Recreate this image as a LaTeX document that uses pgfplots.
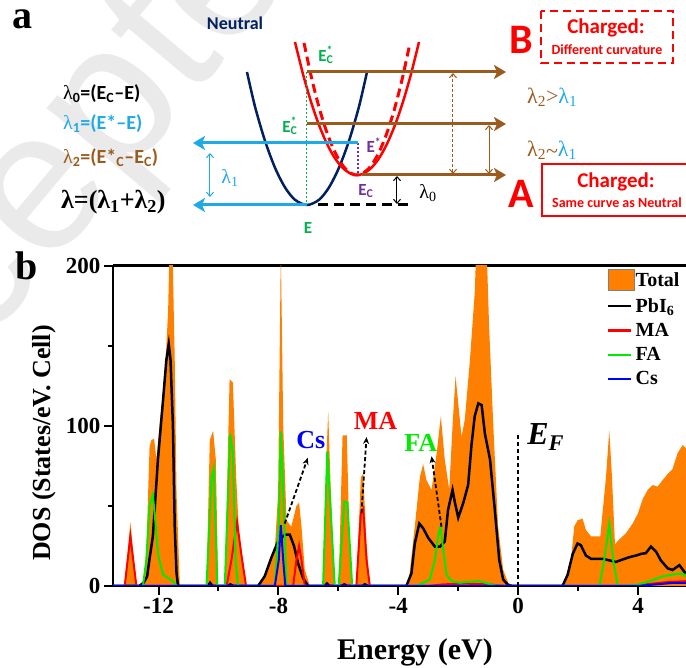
\documentclass[border=0pt]{standalone}
\usepackage{fontspec}
\setmainfont{Liberation Serif}
\newfontfamily\calibri{Carlito}
\newfontfamily\ser{Liberation Serif}
\newfontfamily\wm{Liberation Sans}
\usepackage{pgfplots}
\pgfplotsset{compat=1.18}
\usetikzlibrary{arrows.meta}
\newcommand\fs[1]{\fontsize{#1}{#1}\selectfont}
\definecolor{dosorange}{RGB}{255,128,0}
\definecolor{fagreen}{RGB}{0,235,0}
\definecolor{navy}{RGB}{0,32,96}
\definecolor{lblue}{RGB}{30,170,230}
\definecolor{brownc}{RGB}{155,90,30}
\definecolor{egreen}{RGB}{0,176,80}
\definecolor{purp}{RGB}{112,48,160}
\definecolor{wmgray}{RGB}{234,234,234}
\begin{document}
\begin{tikzpicture}[x=1pt,y=1pt]
\path[use as bounding box] (0pt,0pt) rectangle (686pt,668pt);
\clip (0pt,0pt) rectangle (686pt,668pt);
% ---------- pixel-coordinate axis: panel a and labels ----------
\begin{axis}[at={(0pt,0pt)}, anchor=south west, scale only axis, width=686pt, height=668pt,
  xmin=0, xmax=686, ymin=0, ymax=668, y dir=reverse, axis lines=none, clip=false]
% watermark
\node[rotate=50, text=wmgray, font=\wm\fs{200}] at (62,174) {Accepted};
% panel label a
\node[font=\ser\bfseries\fs{40}] at (23,19) {a};
\node[font=\calibri\bfseries\fs{18}, text=navy] at (235,23) {Neutral};
% formulas
\node[anchor=west, font=\calibri\bfseries\fs{20}, text=black, inner sep=0] at (63,94) {{\ser\mdseries λ}\textsubscript{0}=(E\textsubscript{C}–E)};
\node[anchor=west, font=\calibri\bfseries\fs{20}, text=lblue, inner sep=0] at (63,124) {{\ser\mdseries λ}\textsubscript{1}=(E*–E)};
\node[anchor=west, font=\calibri\bfseries\fs{20}, text=brownc, inner sep=0] at (63,158) {{\ser\mdseries λ}\textsubscript{2}=(E*\textsubscript{C}–E\textsubscript{C})};
\node[anchor=west, font=\ser\bfseries\fs{26}, text=black, inner sep=0] at (61,202) {λ=(λ\textsubscript{1}+λ\textsubscript{2})};
% neutral parabola
\addplot[navy, line width=2.5pt, smooth] coordinates {(247,72) (255,106.6) (265,140.8) (275,167.7) (285,187.4) (295,199.8) (307,205) (319,199.8) (329,187.4) (339,167.7) (349,140.8) (359,106.6) (367,72)};
% charged solid parabola
\addplot[red, line width=2.5pt, smooth] coordinates {(295,42) (303,74.1) (311,101.8) (319,125) (327,143.9) (335,158.3) (343,168.2) (351,173.8) (357,175) (363,173.8) (371,168.2) (379,158.3) (387,143.9) (395,125) (403,101.8) (411,74.1) (419,42)};
% charged dashed parabola
\addplot[red, line width=3pt, dash pattern=on 9pt off 5pt, smooth] coordinates {(304,43) (312,79.8) (320,110.7) (328,135.5) (336,154.3) (344,167.1) (352,173.8) (357,175) (362,173.8) (370,167.1) (378,154.3) (386,135.5) (394,110.7) (402,79.8) (410,43)};
% guide lines
\draw[egreen, line width=1pt, dash pattern=on 2pt off 2pt] (307,72) -- (307,205);
\draw[purp, line width=1.2pt, dash pattern=on 2pt off 2pt] (358,143) -- (358,175);
\draw[black, line width=3pt, dash pattern=on 10pt off 6pt] (318,205) -- (412,205);
% brown arrows
\draw[brownc, line width=3pt, -{Stealth[length=12pt,width=14pt,inset=3pt]}] (307,72) -- (506,72);
\draw[brownc, line width=3pt, -{Stealth[length=12pt,width=14pt,inset=3pt]}] (307,124) -- (506,124);
\draw[brownc, line width=3pt, -{Stealth[length=12pt,width=14pt,inset=3pt]}] (362,175) -- (506,175);
% blue arrows
\draw[lblue, line width=3pt, -{Stealth[length=12pt,width=14pt,inset=3pt]}] (358,143) -- (193,143);
\draw[lblue, line width=3pt, -{Stealth[length=12pt,width=14pt,inset=3pt]}] (307,205) -- (193,205);
% thin double arrows
\draw[lblue, line width=1pt, {Straight Barb[length=4pt,width=7pt]}-{Straight Barb[length=4pt,width=7pt]}] (210,153) -- (210,197);
\draw[black, line width=1pt, {Straight Barb[length=4pt,width=7pt]}-{Straight Barb[length=4pt,width=7pt]}] (397,176) -- (397,204);
\draw[brownc, line width=1pt, dash pattern=on 3pt off 2pt, {Straight Barb[length=4pt,width=7pt]}-{Straight Barb[length=4pt,width=7pt]}] (453,73) -- (453,174);
\draw[brownc, line width=1pt, {Straight Barb[length=4pt,width=7pt]}-{Straight Barb[length=4pt,width=7pt]}] (489,125) -- (489,174);
% labels in diagram
\node[font=\ser\fs{20}, text=lblue] at (230,178) {λ\textsubscript{1}};
\node[font=\calibri\bfseries\fs{17}, text=egreen] at (308,228) {E};
\node[font=\calibri\bfseries\fs{17}, text=egreen] at (326,55) {E\rlap{\textsuperscript{*}}\textsubscript{C}};
\node[font=\calibri\bfseries\fs{17}, text=egreen] at (290,126) {E\rlap{\textsuperscript{*}}\textsubscript{C}};
\node[font=\calibri\bfseries\fs{17}, text=purp] at (374,145) {E\textsuperscript{*}};
\node[font=\calibri\bfseries\fs{17}, text=purp] at (366,191) {E\textsubscript{C}};
\node[font=\ser\fs{20}, text=black] at (428,193) {λ\textsubscript{0}};
\node[anchor=west, font=\ser\fs{22}, inner sep=0] at (527,97) {\textcolor{brownc}{λ\textsubscript{2}>}\textcolor{lblue}{λ\textsubscript{1}}};
\node[anchor=west, font=\ser\fs{22}, inner sep=0] at (527,150) {\textcolor{brownc}{λ\textsubscript{2}\raisebox{-0.25ex}{\textasciitilde}}\textcolor{lblue}{λ\textsubscript{1}}};
% boxes
\node[font=\calibri\bfseries\fs{42}, text=red] at (521,40) {B};
\draw[red, line width=2.5pt, dash pattern=on 8pt off 5pt] (541,11) rectangle (673,63);
\node[font=\calibri\bfseries\fs{21}, text=red] at (606,28) {Charged:};
\node[font=\calibri\bfseries\fs{14}, text=red] at (607,50) {Different curvature};
\node[font=\calibri\bfseries\fs{42}, text=red] at (521,194) {A};
\draw[red, line width=2.5pt] (542,164) rectangle (692,216);
\node[font=\calibri\bfseries\fs{21}, text=red] at (616,182) {Charged:};
\node[font=\calibri\bfseries\fs{14}, text=red] at (617,203) {Same curve as Neutral};
% panel b labels
\node[font=\ser\bfseries\fs{40}] at (27,266) {b};
\node[rotate=90, font=\bfseries\fs{26}] at (44,443) {DOS (States/eV. Cell)};
\node[anchor=base, font=\bfseries\fs{30}] at (415,659) {Energy (eV)};
\end{axis}
% ---------- panel b: DOS ----------
\begin{axis}[at={(113pt,82pt)}, anchor=south west, scale only axis, width=573pt, height=320.4pt,
  xmin=-13.52, xmax=5.6, ymin=0, ymax=200,
  axis x line*=box, axis y line*=left, xtick pos=left,
  axis line style={line width=2.5pt, black},
  xtick={-12,-8,-4,0,4}, xticklabels={-12,-8,-4,0,4}, minor xtick={-10,-6,-2,2},
  ytick={0,100,200}, yticklabels={0,100,200}, minor ytick={50,150},
  tick align=outside, major tick length=9pt, minor tick length=5pt,
  tick style={line width=2pt, black},
  tick label style={font=\bfseries\fs{23}},
  legend image code/.code={\draw[#1, line width=2.5pt] (0pt,0pt) -- (23pt,0pt);},
  legend style={at={(axis cs:2.95,198)}, anchor=north west, draw=none, fill=none,
    font=\bfseries\fs{20}, row sep=6.5pt, inner sep=0pt, nodes={inner sep=1.5pt}},
  legend cell align=left]
\addplot[fill=dosorange, draw=none, legend image code/.code={\fill[dosorange, draw=gray] (0pt,-10pt) rectangle (26pt,11pt);}] coordinates {
(-13.52,0) (-13.13,0) (-12.94,40) (-12.74,0) (-12.52,0) (-12.41,20) (-12.30,87) (-12.24,91) (-12.15,92) (-12.07,79) (-11.96,102) (-11.79,131) (-11.68,172) (-11.63,215) (-11.54,215) (-11.46,141) (-11.40,58) (-11.29,0) (-10.40,0) (-10.29,91) (-10.18,97) (-10.09,79) (-10.01,0) (-9.79,0) (-9.63,129) (-9.52,127) (-9.41,68) (-9.30,26) (-9.19,16) (-9.08,0) (-8.68,0) (-8.46,6) (-8.23,18) (-8.12,23) (-8.01,58) (-7.92,210) (-7.84,100) (-7.73,41) (-7.57,37) (-7.40,50) (-7.31,52) (-7.23,37) (-7.12,10) (-6.95,0) (-6.51,0) (-6.40,79) (-6.34,109) (-6.25,58) (-6.12,0) (-5.99,0) (-5.86,94) (-5.72,94) (-5.64,37) (-5.54,0) (-5.40,0) (-5.25,68) (-5.17,70) (-5.06,26) (-4.95,0) (-3.67,0) (-3.45,37) (-3.28,68) (-3.17,76) (-3.06,66) (-2.89,60) (-2.72,83) (-2.58,106) (-2.45,79) (-2.30,60) (-2.19,100) (-2.09,131) (-2.00,114) (-1.89,93) (-1.78,104) (-1.61,141) (-1.45,183) (-1.39,215) (-1.25,230) (-1.06,215) (-0.97,162) (-0.83,100) (-0.67,37) (-0.50,10) (-0.33,2) (-0.16,0) (1.54,0) (1.76,16) (1.87,37) (1.98,41) (2.15,42) (2.26,35) (2.43,31) (2.59,31) (2.74,31) (2.93,68) (3.04,97) (3.13,68) (3.23,26) (3.37,29) (3.60,33) (3.82,39) (3.99,45) (4.15,54) (4.32,60) (4.49,63) (4.65,62) (4.82,66) (4.99,70) (5.15,73) (5.32,83) (5.49,88) (5.60,86)} \closedcycle;
\addlegendentry{Total}
\addplot[black, line width=2.5pt] coordinates {
(-13.52,0) (-12.65,0) (-12.50,2) (-12.38,6) (-12.30,17) (-12.19,31) (-12.02,79) (-11.85,116) (-11.74,141) (-11.66,151) (-11.60,141) (-11.52,100) (-11.46,37) (-11.40,8) (-11.35,0) (-10.35,0) (-10.28,2) (-10.20,0) (-9.7,0) (-9.6,1) (-9.5,0) (-8.68,0) (-8.46,6) (-8.23,18) (-8.01,28) (-7.79,32) (-7.62,32) (-7.48,25) (-7.34,14) (-7.18,5) (-7.01,0) (-6.45,0) (-6.38,1.5) (-6.3,0) (-5.9,0) (-5.8,1) (-5.7,0) (-5.2,0) (-5.12,1) (-5.0,0) (-3.73,0) (-3.56,8) (-3.45,26.5) (-3.30,39) (-3.17,36) (-3.00,30) (-2.78,24.6) (-2.61,24.6) (-2.45,27.7) (-2.34,47.5) (-2.19,60) (-2.11,52) (-2.00,42.6) (-1.83,52) (-1.67,63) (-1.56,87.6) (-1.45,106) (-1.33,114) (-1.22,113) (-1.11,95) (-0.94,79) (-0.78,47.5) (-0.63,16) (-0.50,4) (-0.33,0.5) (-0.16,0) (1.48,0) (1.65,7) (1.82,20) (1.98,26.5) (2.09,25.5) (2.26,19) (2.43,17) (2.59,17) (2.82,17) (3.04,16) (3.26,15) (3.48,16.5) (3.71,18) (3.93,19) (4.09,20) (4.26,20.5) (4.43,24.6) (4.60,21.5) (4.76,16) (4.99,11) (5.15,10) (5.38,13) (5.54,9) (5.60,8)};
\addlegendentry{PbI\textsubscript{6}}
\addplot[red, line width=2pt] coordinates {
(-13.52,0) (-13.13,0) (-12.94,31) (-12.74,0) (-9.73,0) (-9.57,16) (-9.38,40) (-9.24,20) (-9.08,0) (-7.51,0) (-7.40,16) (-7.31,25) (-7.23,16) (-7.12,0) (-5.40,0) (-5.25,45) (-5.17,48) (-5.06,16) (-4.95,0) (-3.0,0) (-2.5,1) (-1.8,1.5) (-1,1) (-0.4,0) (3.8,0) (4.5,1.5) (5.0,2.5) (5.6,3)};
\addlegendentry{MA}
\addplot[fagreen, line width=2pt] coordinates {
(-13.52,0) (-12.52,0) (-12.41,16) (-12.30,50) (-12.19,57) (-12.11,41) (-12.02,20) (-11.85,7) (-11.68,5) (-11.52,3) (-11.40,0) (-10.40,0) (-10.23,68) (-10.16,73.5) (-10.04,0) (-9.79,0) (-9.61,95) (-9.52,83) (-9.43,16) (-9.35,0) (-8.12,0) (-7.99,37) (-7.92,96.5) (-7.84,58) (-7.73,0) (-6.51,0) (-6.37,84) (-6.29,58) (-6.12,0) (-5.99,0) (-5.80,52.7) (-5.70,52) (-5.54,0) (-3.39,0) (-2.95,4) (-2.78,16) (-2.67,31) (-2.59,37) (-2.50,22.5) (-2.39,7) (-2.22,3) (-1.95,2) (-1.72,2.5) (-1.28,3) (-0.83,0.5) (-0.5,0) (2.71,0) (2.87,16) (3.04,39) (3.17,16) (3.32,0) (3.93,0.5) (4.38,3) (4.82,6) (5.26,7.5) (5.49,7.5) (5.60,6)};
\addlegendentry{FA}
\addplot[blue, line width=2pt] coordinates {
(-13.52,0) (-8.12,0) (-7.99,16) (-7.92,38) (-7.84,16) (-7.77,0) (4.0,0) (4.6,1) (5.2,2) (5.6,2)};
\addlegendentry{Cs}
% Fermi level and annotations
\draw[black, line width=1.5pt, dash pattern=on 4pt off 3pt] (0,0) -- (0,95.6);
\node[font=\bfseries\itshape\fs{32}] at (0.92,93) {E\textsubscript{F}};
\draw[black, line width=1.8pt, dash pattern=on 4pt off 2.5pt, -{Stealth[length=7pt,width=6pt]}] (-7.79,39) -- (-7.02,80);
\draw[black, line width=1.8pt, dash pattern=on 4pt off 2.5pt, -{Stealth[length=7pt,width=6pt]}] (-5.23,45.6) -- (-5.06,93);
\draw[black, line width=1.8pt, dash pattern=on 4pt off 2.5pt, -{Stealth[length=7pt,width=6pt]}] (-2.56,37) -- (-2.89,81);
\node[font=\bfseries\fs{26}, text=blue] at (-6.92,91) {Cs};
\node[font=\bfseries\fs{26}, text=red] at (-4.76,103) {MA};
\node[font=\bfseries\fs{26}, text=fagreen] at (-3.25,89) {FA};
\end{axis}
\end{tikzpicture}
\end{document}
